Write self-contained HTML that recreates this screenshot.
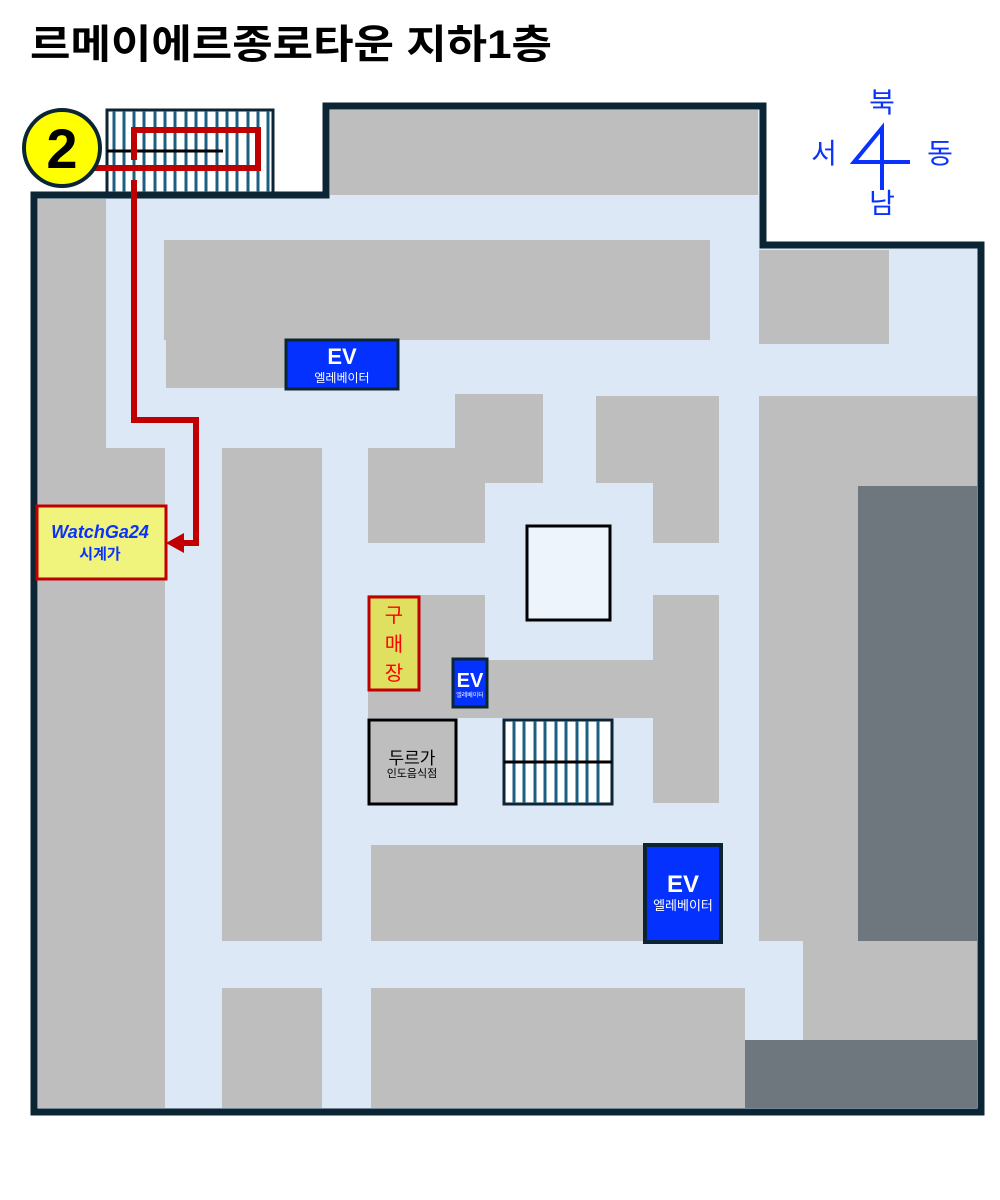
<!DOCTYPE html>
<html><head><meta charset="utf-8"><style>
html,body{margin:0;padding:0;background:#fff;width:1000px;height:1200px;overflow:hidden}
svg{display:block}
text{font-family:"Liberation Sans","Noto Sans CJK KR",sans-serif}
</style></head><body>
<svg width="1000" height="1200" viewBox="0 0 1000 1200" xmlns="http://www.w3.org/2000/svg">
<text x="30" y="58" font-size="40" font-weight="bold" fill="#000" textLength="522" lengthAdjust="spacingAndGlyphs">르메이에르종로타운 지하1층</text>

<polygon points="34,195 326,195 326,106 763,106 763,245 981,245 981,1112 34,1112" fill="#dce8f5"/>

<g fill="#bebebe">
<rect x="38" y="199" width="68" height="249"/>
<rect x="38" y="448" width="127" height="660"/>
<rect x="164" y="240" width="546" height="100"/>
<rect x="166" y="340" width="120" height="48"/>
<rect x="330" y="110" width="428" height="85"/>
<rect x="759" y="250" width="130" height="94"/>
<rect x="222" y="448" width="100" height="493"/>
<rect x="368" y="448" width="117" height="95"/>
<rect x="455" y="394" width="88" height="89"/>
<rect x="596" y="396" width="123" height="87"/>
<rect x="653" y="483" width="66" height="60"/>
<rect x="368" y="595" width="117" height="123"/>
<rect x="485" y="660" width="168" height="58"/>
<rect x="653" y="595" width="66" height="208"/>
<rect x="759" y="396" width="218" height="545"/>
<rect x="803" y="941" width="174" height="99"/>
<rect x="371" y="845" width="274" height="96"/>
<rect x="222" y="988" width="100" height="120"/>
<rect x="371" y="988" width="374" height="120"/>
</g>
<g fill="#6f777e">
<rect x="858" y="486" width="119" height="455"/>
<rect x="745" y="1040" width="232" height="68"/>
</g>

<polygon points="34,195 326,195 326,106 763,106 763,245 981,245 981,1112 34,1112" fill="none" stroke="#0b2535" stroke-width="7"/>

<rect x="107" y="110" width="166" height="83" fill="#fff" stroke="#0b2535" stroke-width="3"/>
<g stroke="#1d5f80" stroke-width="3">
<line x1="114" y1="111" x2="114" y2="192"/><line x1="124" y1="111" x2="124" y2="192"/><line x1="134" y1="111" x2="134" y2="192"/><line x1="144" y1="111" x2="144" y2="192"/><line x1="155" y1="111" x2="155" y2="192"/><line x1="165" y1="111" x2="165" y2="192"/><line x1="175" y1="111" x2="175" y2="192"/><line x1="186" y1="111" x2="186" y2="192"/><line x1="196" y1="111" x2="196" y2="192"/><line x1="206" y1="111" x2="206" y2="192"/><line x1="217" y1="111" x2="217" y2="192"/><line x1="227" y1="111" x2="227" y2="192"/><line x1="237" y1="111" x2="237" y2="192"/><line x1="248" y1="111" x2="248" y2="192"/><line x1="258" y1="111" x2="258" y2="192"/><line x1="268" y1="111" x2="268" y2="192"/>
</g>
<line x1="107" y1="151" x2="223" y2="151" stroke="#000" stroke-width="3"/>

<g fill="none" stroke="#c00000" stroke-width="6">
<polyline points="95,168 258,168 258,130 134,130 134,160"/>
<polyline points="134,180 134,420 196,420 196,543 180,543"/>
</g>
<polygon points="166,543 184,533 184,553" fill="#c00000"/>

<circle cx="62" cy="148" r="38" fill="#ffff00" stroke="#0b2535" stroke-width="4"/>
<text x="62" y="168" font-size="56" font-weight="bold" text-anchor="middle" fill="#000">2</text>

<g stroke="#0a32ff" stroke-width="4" fill="none">
<polyline points="910,162 854,162 882,128 882,190"/>
</g>
<g fill="#0a32ff" font-size="28" text-anchor="middle">
<text x="882" y="112">북</text>
<text x="824" y="163">서</text>
<text x="940" y="163">동</text>
<text x="882" y="213">남</text>
</g>

<rect x="286" y="340" width="112" height="49" fill="#0531ff" stroke="#0b2535" stroke-width="3"/>
<text x="342" y="364" font-size="22" font-weight="bold" fill="#fff" text-anchor="middle">EV</text>
<text x="342" y="382" font-size="12" fill="#fff" text-anchor="middle">엘레베이터</text>

<rect x="453" y="659" width="34" height="48" fill="#0531ff" stroke="#0b2535" stroke-width="3"/>
<text x="470" y="687" font-size="20" font-weight="bold" fill="#fff" text-anchor="middle">EV</text>
<text x="470" y="697" font-size="6" fill="#fff" text-anchor="middle">엘레베이터</text>

<rect x="645" y="845" width="76" height="97" fill="#0531ff" stroke="#0b2535" stroke-width="4"/>
<text x="683" y="892" font-size="24" font-weight="bold" fill="#fff" text-anchor="middle">EV</text>
<text x="683" y="910" font-size="13" fill="#fff" text-anchor="middle">엘레베이터</text>

<rect x="527" y="526" width="83" height="94" fill="#eef4fb" stroke="#000" stroke-width="3"/>

<rect x="37" y="506" width="129" height="73" fill="#f0f47c" stroke="#c00000" stroke-width="3"/>
<text x="100" y="538" font-size="18" font-weight="bold" font-style="italic" fill="#0a32ff" text-anchor="middle">WatchGa24</text>
<text x="100" y="559" font-size="15" font-weight="bold" fill="#0a32ff" text-anchor="middle">시계가</text>

<rect x="369" y="597" width="50" height="93" fill="#e0e060" stroke="#c00000" stroke-width="3"/>
<g fill="#ff0000" font-size="20" text-anchor="middle">
<text x="394" y="622">구</text>
<text x="394" y="651">매</text>
<text x="394" y="680">장</text>
</g>

<rect x="369" y="720" width="87" height="84" fill="#bebebe" stroke="#000" stroke-width="3"/>
<text x="412" y="764" font-size="17" fill="#000" text-anchor="middle">두르가</text>
<text x="412" y="777" font-size="11" fill="#000" text-anchor="middle">인도음식점</text>

<rect x="504" y="720" width="108" height="84" fill="#fff" stroke="#0b2535" stroke-width="3"/>
<g stroke="#1d5f80" stroke-width="3">
<line x1="514" y1="721" x2="514" y2="803"/><line x1="524" y1="721" x2="524" y2="803"/><line x1="535" y1="721" x2="535" y2="803"/><line x1="545" y1="721" x2="545" y2="803"/><line x1="556" y1="721" x2="556" y2="803"/><line x1="566" y1="721" x2="566" y2="803"/><line x1="577" y1="721" x2="577" y2="803"/><line x1="587" y1="721" x2="587" y2="803"/><line x1="598" y1="721" x2="598" y2="803"/>
</g>
<line x1="504" y1="762" x2="612" y2="762" stroke="#000" stroke-width="3"/>
</svg>
</body></html>
